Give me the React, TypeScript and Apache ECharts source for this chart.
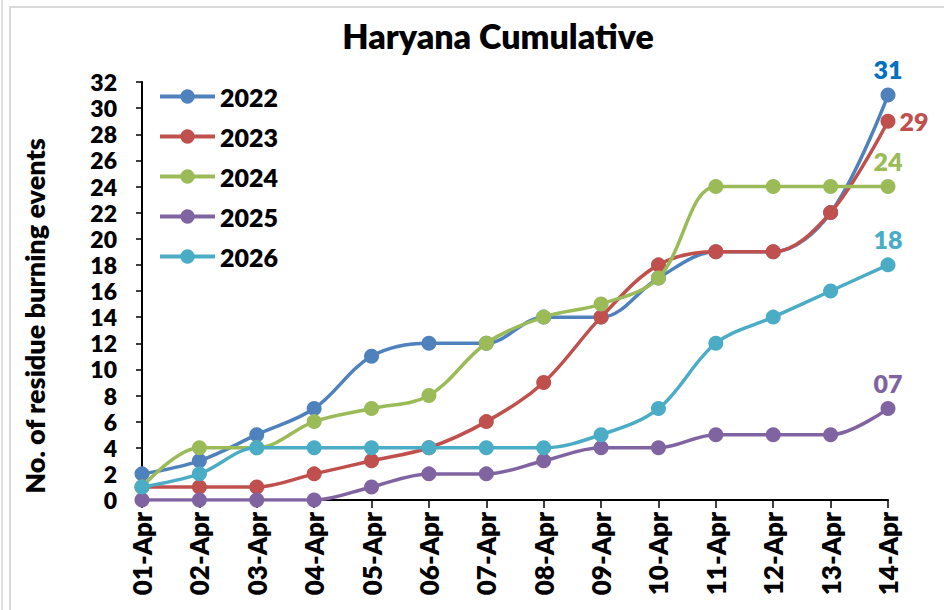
import React, { useEffect, useRef } from "react";
import * as echarts from "echarts";

const categories = ["01-Apr", "02-Apr", "03-Apr", "04-Apr", "05-Apr", "06-Apr", "07-Apr", "08-Apr", "09-Apr", "10-Apr", "11-Apr", "12-Apr", "13-Apr", "14-Apr"];
const s2022 = [2, 3, 5, 7, 11, 12, 12, 14, 14, 17, 19, 19, 22, 31];
const s2023 = [1, 1, 1, 2, 3, 4, 6, 9, 14, 18, 19, 19, 22, 29];
const s2024 = [1, 4, 4, 6, 7, 8, 12, 14, 15, 17, 24, 24, 24, 24];
const s2025 = [0, 0, 0, 0, 1, 2, 2, 3, 4, 4, 5, 5, 5, 7];
const s2026 = [1, 2, 4, 4, 4, 4, 4, 4, 5, 7, 12, 14, 16, 18];
const seriesNames = ["2022", "2023", "2024", "2025", "2026"];
const endLabels = ["31", "29", "24", "07", "18"];

const FONT = "Lato";
const W = 800;

export default function App() {
  const ref = useRef<HTMLDivElement>(null);
  useEffect(() => {
    document.body.style.margin = "0";
    const chart = echarts.init(ref.current!, null, { renderer: "svg" });
    const colors = ["#4F81BD", "#C0504D", "#9BBB59", "#8064A2", "#4BACC6"];
    const labelColors = ["#0070C0", "#C0504D", "#9BBB59", "#8064A2", "#4BACC6"];
    const labelPos = ["top", "right", "top", "top", "top"];
    const data = [s2022, s2023, s2024, s2025, s2026];
    const series = data.map((d, i) => ({
      name: seriesNames[i],
      type: "line",
      smooth: 0.35,
      data: d.map((v, j) =>
        j === d.length - 1
          ? {
              value: v,
              label: {
                show: true,
                formatter: endLabels[i],
                position: labelPos[i],
                distance: i === 1 ? 4 : 6,
                color: labelColors[i],
                fontFamily: FONT,
                fontWeight: W,
                fontSize: 25,
              },
            }
          : v
      ),
      symbol: "circle",
      symbolSize: 15,
      lineStyle: { width: 3.5, color: colors[i] },
      itemStyle: { color: colors[i] },
      z: 2 + i,
    }));
    chart.setOption({
      animation: false,
      backgroundColor: "#ffffff",
      title: {
        text: "Haryana Cumulative",
        left: 493,
        top: 13,
        textAlign: "center",
        textStyle: { fontFamily: FONT, fontWeight: W, fontSize: 34, color: "#000" },
      },
      legend: {
        orient: "vertical",
        left: 153,
        top: 79,
        itemWidth: 55,
        itemHeight: 18,
        itemGap: 15,
        data: seriesNames,
        lineStyle: { width: 4 },
        textStyle: { fontFamily: FONT, fontWeight: W, fontSize: 25, color: "#000" },
      },
      grid: { left: 142, right: 56, top: 82, bottom: 110, containLabel: false },
      xAxis: {
        type: "category",
        data: categories,
        boundaryGap: false,
        axisLine: { lineStyle: { color: "#000", width: 2 } },
        axisTick: { show: true, alignWithLabel: true, length: 8, lineStyle: { color: "#000", width: 1.5 } },
        axisLabel: {
          rotate: 90,
          interval: 0,
          margin: 12,
          fontFamily: FONT,
          fontWeight: W,
          fontSize: 26,
          color: "#000",
        },
      },
      yAxis: {
        type: "value",
        min: 0,
        max: 32,
        interval: 2,
        splitLine: { show: false },
        axisLine: { show: true, lineStyle: { color: "#000", width: 2 } },
        axisTick: { show: true, length: 6, lineStyle: { color: "#000", width: 1.5 } },
        axisLabel: { margin: 25, fontFamily: FONT, fontWeight: W, fontSize: 23, lineHeight: 22, color: "#000" },
      },
      graphic: [
        {
          type: "rect",
          shape: { x: 10, y: 7, width: 960, height: 640 },
          style: { fill: "none", stroke: "#d9d9d9", lineWidth: 2 },
          silent: true,
        },
        {
          type: "line",
          shape: { x1: 2, y1: 0, x2: 2, y2: 610 },
          style: { stroke: "#e0e0e0", lineWidth: 2 },
          silent: true,
        },
        {
          type: "text",
          x: 34,
          y: 316,
          rotation: Math.PI / 2,
          style: {
            text: "No. of residue burning events",
            fontFamily: FONT,
            fontWeight: W,
            fontSize: 27,
            fill: "#000",
            textAlign: "center",
            textVerticalAlign: "middle",
          },
        },
      ],
      series,
    });
    return () => chart.dispose();
  }, []);
  return <div ref={ref} style={{ width: 944, height: 610 }} />;
}
